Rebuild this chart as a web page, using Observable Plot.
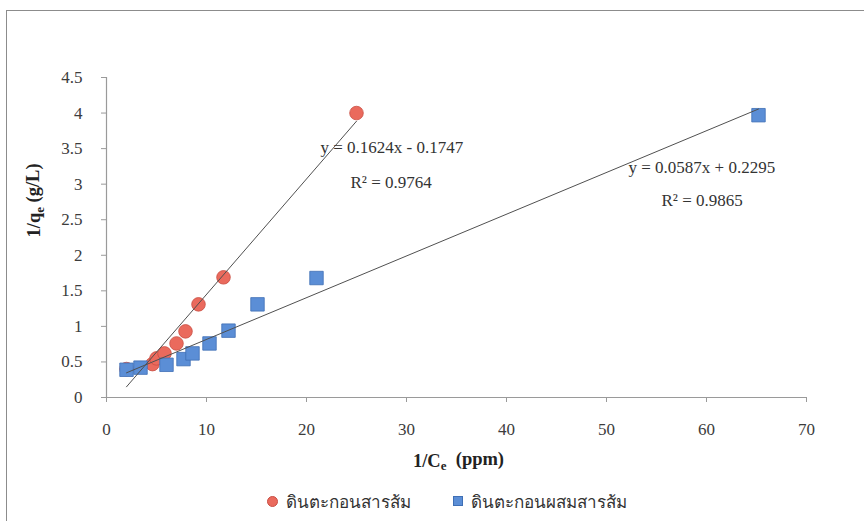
<!DOCTYPE html>
<html>
<head>
<meta charset="utf-8">
<script src="https://cdn.jsdelivr.net/npm/d3@7"></script>
<script src="https://cdn.jsdelivr.net/npm/@observablehq/plot@0.6"></script>
<style>
  html, body { margin: 0; padding: 0; background: #fff; width: 864px; height: 521px; overflow: hidden; }
  #frame { position: absolute; left: 6px; top: 10px; width: 920px; height: 620px;
           border-left: 1.5px solid #8c8c8c; border-top: 1.5px solid #8c8c8c; }
  #chart { position: absolute; left: 0; top: 0; }
  #chart svg text { font-family: "Liberation Serif", "Times New Roman", serif; }
  #legend { position: absolute; left: 0; top: 482px; width: 864px; height: 38px;
            font-family: "Liberation Serif", serif; font-size: 17px; color: #333; }
  .item { position: absolute; top: 0; height: 38px; display: flex; align-items: center; }
  .sw { display: inline-block; margin-right: 8px; }
</style>
</head>
<body>
<div id="frame"></div>
<div id="chart"></div>
<div id="legend"></div>
<script>
// Langmuir linear plot: 1/qe against 1/Ce for two sediment samples
const seriesNames = ["ดินตะกอนสารส้ม", "ดินตะกอนผสมสารส้ม"];

// ดินตะกอนสารส้ม
const xA = [2.0, 4.6, 5.0, 5.8, 7.0, 7.9, 9.2, 11.7, 25.0];
const yA = [0.40, 0.47, 0.55, 0.62, 0.76, 0.93, 1.31, 1.69, 4.0];

// ดินตะกอนผสมสารส้ม
const xB = [2.0, 3.4, 6.0, 7.7, 8.6, 10.3, 12.2, 15.1, 21.0, 65.2];
const yB = [0.39, 0.42, 0.46, 0.54, 0.62, 0.76, 0.94, 1.31, 1.68, 3.97];

// linear trendlines: slope, intercept, R²
const slopes = [0.1624, 0.0587];
const intercepts = [-0.1747, 0.2295];
const r2 = [0.9764, 0.9865];

const xTicks = [0, 10, 20, 30, 40, 50, 60, 70];
const yTicks = [0, 0.5, 1, 1.5, 2, 2.5, 3, 3.5, 4, 4.5];

const xTitle = "1/Ce (ppm)";
const yTitle = "1/qe (g/L)";

const colors = ["#ea6a5d", "#5b8ed6"];
const strokes = ["#c94e43", "#3f6fb5"];

const ptsA = xA.map((x, i) => ({x, y: yA[i]}));
const ptsB = xB.map((x, i) => ({x, y: yB[i]}));

// trendline endpoints over each series' x range
function trend(xs, k) {
  const [x0, x1] = d3.extent(xs);
  return [x0, x1].map(x => ({x, y: slopes[k] * x + intercepts[k]}));
}
const fmtEq = k => `y = ${slopes[k].toFixed(4)}x ${intercepts[k] < 0 ? "-" : "+"} ${Math.abs(intercepts[k]).toFixed(4)}`;
const fmtR2 = k => `R² = ${r2[k].toFixed(4)}`;

const serif = "Liberation Serif, Times New Roman, serif";

const plot = Plot.plot({
  width: 864,
  height: 480,
  marginLeft: 106,
  marginRight: 58,
  marginTop: 77,
  marginBottom: 83,
  style: {fontFamily: serif, fontSize: "17px", background: "transparent", overflow: "visible"},
  x: {domain: [0, 70]},
  y: {domain: [0, 4.5]},
  marks: [
    Plot.ruleX([0], {stroke: "#9a9a9a", strokeWidth: 1.2}),
    Plot.ruleY([0], {stroke: "#9a9a9a", strokeWidth: 1.2}),
    Plot.axisX({ticks: xTicks, tickSize: 5, tickPadding: 20, stroke: "#9a9a9a", fill: "#3c3c3c", label: null, fontSize: 17}),
    Plot.axisY({ticks: yTicks, tickSize: 5, tickPadding: 19, stroke: "#9a9a9a", fill: "#3c3c3c", label: null, fontSize: 17,
                tickFormat: d => String(d)}),
    Plot.dot(ptsA, {x: "x", y: "y", r: 6.8, fill: colors[0], stroke: strokes[0], strokeWidth: 0.8}),
    Plot.dot(ptsB, {x: "x", y: "y", r: 7.6, symbol: "square", fill: colors[1], stroke: strokes[1], strokeWidth: 0.8}),
    Plot.line(trend(xA, 0), {x: "x", y: "y", stroke: "#505050", strokeWidth: 1}),
    Plot.line(trend(xB, 1), {x: "x", y: "y", stroke: "#505050", strokeWidth: 1}),
    Plot.text([fmtEq(0)], {x: 21.4, y: 3.52, text: d => d, textAnchor: "start", fill: "#333", fontSize: 17}),
    Plot.text([fmtR2(0)], {x: 24.4, y: 3.02, text: d => d, textAnchor: "start", fill: "#333", fontSize: 17}),
    Plot.text([fmtEq(1)], {x: 52.2, y: 3.23, text: d => d, textAnchor: "start", fill: "#333", fontSize: 17}),
    Plot.text([fmtR2(1)], {x: 55.5, y: 2.77, text: d => d, textAnchor: "start", fill: "#333", fontSize: 17}),
    Plot.text([yTitle], {frameAnchor: "left", dx: -72, rotate: -90, text: d => d, fontWeight: "bold", fontSize: 18.5, fill: "#222"}),
    Plot.text([xTitle], {frameAnchor: "bottom", dx: 2, dy: 69, text: d => d, fontWeight: "bold", fontSize: 18.5, fill: "#222"})
  ]
});

// subscript "e" in the axis titles
d3.select(plot).selectAll("text").each(function() {
  const t = this.textContent;
  if (t !== xTitle && t !== yTitle) return;
  const sel = d3.select(this).text(null);
  const head = t === xTitle ? "1/C" : "1/q";
  const tail = t === xTitle ? "  (ppm)" : " (g/L)";
  sel.append("tspan").text(head);
  sel.append("tspan").attr("dy", "0.3em").attr("font-size", "0.7em").text("e");
  sel.append("tspan").attr("dy", "-0.3em").attr("xml:space", "preserve").style("white-space", "pre").text(tail);
});

document.getElementById("chart").appendChild(plot);

// legend below the chart
const legend = d3.select("#legend");
const items = [
  {left: 267, shape: "circle"},
  {left: 453, shape: "square"}
];
items.forEach((it, i) => {
  const div = legend.append("div").attr("class", "item").style("left", it.left + "px");
  const sw = div.append("span").attr("class", "sw")
    .style("background", colors[i])
    .style("border", `1px solid ${strokes[i]}`);
  if (it.shape === "circle") sw.style("width", "9px").style("height", "9px").style("border-radius", "50%");
  else sw.style("width", "8px").style("height", "8px");
  div.append("span").text(seriesNames[i]);
});
</script>
</body>
</html>
